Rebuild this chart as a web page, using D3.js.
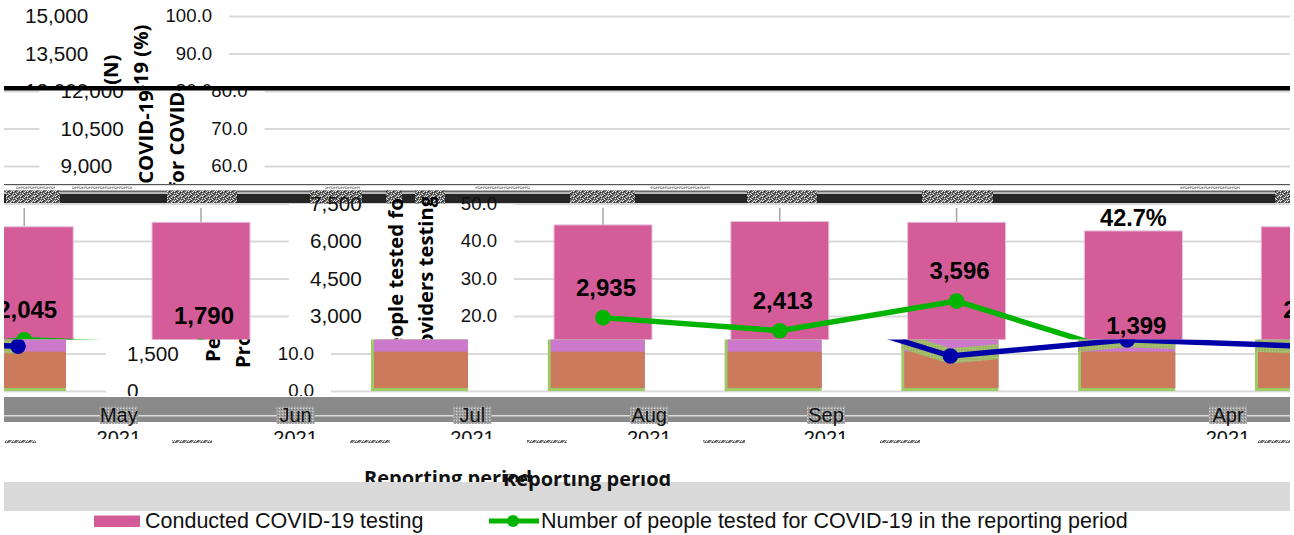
<!DOCTYPE html>
<html><head><meta charset="utf-8">
<script src="https://cdn.jsdelivr.net/npm/d3@7/dist/d3.min.js"></script>
<style>
html,body{margin:0;padding:0;background:#fff}
svg{display:block}
text{font-family:"Liberation Sans",Arial,sans-serif;fill:#111}
</style></head><body>
<svg id="c" width="1294" height="535"></svg>
<script>
// ---- data ----
const months = ["Apr","May","Jun","Jul","Aug","Sep"];
const year = "2021";
const conductedPct = [44.3,45.2,45.0,42.7,43.8,45.0];
const lowerPct = [10.5,10.5,10.5,10.5,10.5,10.5];
const peopleTested = [2935,2413,3596,1399,2045,1790];
const pctLabelShown = ["","","","42.7%","",""];
const countTicks = [0,1500,3000,4500,6000,7500,9000,10500,12000,13500,15000];
const pctTicks = [0,10,20,30,40,50,60,70,80,90,100];
const titleCount = "People tested for COVID-19 (N)";
const titlePct = "Providers testing for COVID-19 (%)";
const xTitle = "Reporting period";
const legendBar = "Conducted COVID-19 testing";
const legendLine = "Number of people tested for COVID-19 in the reporting period";

// ---- layout ----
const L = 4, R = 1290, WRAP = R - L;
const yTop = 16, yBase = 391;
const bands = [
  {id:"b0", y0:0,     y1:87,    dx:0,     marks:false},
  {id:"b1", y0:89,    y1:184,   dx:35.5,  marks:false},
  {id:"bA", y0:197,   y1:339.5, dx:285,   marks:true, swap:false},
  {id:"bB", y0:339.5, y1:396,   dx:102,   marks:true, swap:true}
];
const noiseX = [[6,60],[167,237],[310,362],[386,402],[415,445],[570,635],[747,817],[922,993],[1275,1290]];
const tinyNoiseX = [[5,36],[172,212],[350,390],[527,567],[703,745],[880,920],[1258,1290]];
const thinNoiseX = [[16,55],[72,132],[325,360],[475,530],[650,710],[1180,1240]];
const pink="#d45d99", pinkEdge="#e3c4e2", orange="#cc7a5c", purple="#cc78cc", olive="#9ccb63",
      green="#00b400", navy="#0000a8", grid="#d9d9d9";

const svg = d3.select("#c");
const x = d3.scalePoint().domain(months).range([318,1202]);
const yCount = d3.scaleLinear().domain([0,15000]).range([yBase,yTop]);
const yPct = d3.scaleLinear().domain([0,100]).range([yBase,yTop]);
const barW = 98;
const fmt = d3.format(",");
const line = d3.line().x((d,i)=>x(months[i])).y(d=>yCount(d));

const defs = svg.append("defs");
const pat = defs.append("pattern").attr("id","noise").attr("width",7).attr("height",5).attr("patternUnits","userSpaceOnUse");
pat.append("rect").attr("width",7).attr("height",5).attr("fill","#6f6f6f");
[[0,0,"#f4f4f4"],[2,0,"#2a2a2a"],[5,0,"#e8d8e4"],[4,1,"#c8d8c0"],[1,1,"#262626"],[6,1,"#fff"],[3,2,"#f2e2ee"],[0,2,"#444"],[5,2,"#222"],
 [1,3,"#ddd"],[3,3,"#2a2a2a"],[6,3,"#cfe0d0"],[0,4,"#333"],[2,4,"#fafafa"],[4,4,"#3c3c3c"]]
  .forEach(p=>pat.append("rect").attr("x",p[0]).attr("y",p[1]).attr("width",1).attr("height",1).attr("fill",p[2]));
const pat2 = defs.append("pattern").attr("id","halo").attr("width",3).attr("height",3).attr("patternUnits","userSpaceOnUse");
pat2.append("rect").attr("width",3).attr("height",3).attr("fill","#a0a0a0");
pat2.append("rect").attr("width",1).attr("height",1).attr("fill","#d8d8d8");
pat2.append("rect").attr("x",2).attr("y",1).attr("width",1).attr("height",1).attr("fill","#767676");
const pat3 = defs.append("pattern").attr("id","oliveN").attr("width",3).attr("height",3).attr("patternUnits","userSpaceOnUse");
pat3.append("rect").attr("width",3).attr("height",3).attr("fill","#9fb866");
pat3.append("rect").attr("width",1).attr("height",1).attr("fill","#b8c890");

// strips under the shifted bands, so tick text sits over them
svg.append("rect").attr("x",L).attr("y",184).attr("width",R-L).attr("height",1.2).attr("fill","#555");
svg.append("rect").attr("x",L).attr("y",190.5).attr("width",R-L).attr("height",2).attr("fill","#666");
svg.append("rect").attr("x",L).attr("y",193.7).attr("width",R-L).attr("height",9.5).attr("fill","#262626");
noiseX.forEach(n=>svg.append("rect").attr("x",n[0]).attr("y",190.5).attr("width",n[1]-n[0]).attr("height",13).attr("fill","url(#noise)"));
thinNoiseX.forEach(n=>svg.append("rect").attr("x",n[0]).attr("y",186.5).attr("width",n[1]-n[0]).attr("height",2.5).attr("fill","url(#noise)").attr("opacity",.5));

function scene(g, band){
  g.append("g").attr("transform",`translate(229,0)`)
    .call(d3.axisRight(yPct).tickValues(pctTicks).tickSize(R-229).tickFormat(""))
    .call(a=>a.select(".domain").remove())
    .selectAll("line").attr("stroke",grid).attr("stroke-width",2);
  if(band.marks){
    months.forEach((m,i)=>{
      const cx=x(m), top=yPct(conductedPct[i]), low=yPct(lowerPct[i]);
      if(!band.swap){
        if(!pctLabelShown[i])
          g.append("line").attr("x1",cx).attr("x2",cx).attr("y1",208).attr("y2",top).attr("stroke","#a6a6a6").attr("stroke-width",1.5);
        g.append("rect").attr("x",cx-barW/2).attr("width",barW).attr("y",top).attr("height",yBase-top)
          .attr("fill",pink).attr("stroke",pinkEdge).attr("stroke-width",1);
      } else {
        g.append("rect").attr("x",cx-barW/2).attr("width",barW-1).attr("y",top).attr("height",yBase-top)
          .attr("fill",olive);
        g.append("rect").attr("x",cx-barW/2+3).attr("width",barW-4).attr("y",top).attr("height",yBase-top-3)
          .attr("fill",purple);
        g.append("rect").attr("x",cx-barW/2+3).attr("width",barW-4).attr("y",low).attr("height",yBase-low-3)
          .attr("fill",orange);
      }
    });
    if(band.swap){
      const cid="barsClip"+band.id;
      const cp=defs.append("clipPath").attr("id",cid);
      months.forEach(m=>cp.append("rect").attr("x",x(m)-barW/2).attr("width",barW-1).attr("y",340).attr("height",56));
      g.append("g").attr("clip-path",`url(#${cid})`).append("path").attr("d",line(peopleTested))
        .attr("fill","none").attr("stroke","url(#oliveN)").attr("stroke-width",15);
    }
    const col = band.swap?navy:green;
    g.append("path").attr("d",line(peopleTested)).attr("fill","none").attr("stroke",col).attr("stroke-width",5.5);
    g.selectAll(null).data(peopleTested).enter().append("circle")
      .attr("cx",(d,i)=>x(months[i])).attr("cy",d=>yCount(d)).attr("r",7.8).attr("fill",col);
    g.selectAll(null).data(peopleTested).enter().append("text")
      .attr("x",(d,i)=>x(months[i])+3).attr("y",d=>yCount(d)-22)
      .attr("text-anchor","middle").attr("font-size",24).attr("font-weight","bold").style("fill","#000")
      .text(d=>fmt(d));
    pctLabelShown.forEach((t,i)=>{ if(t)
      g.append("text").attr("x",x(months[i])).attr("y",yPct(conductedPct[i])-5)
       .attr("text-anchor","middle").attr("font-size",23.5).attr("font-weight","bold").style("fill","#000").text(t);
    });
  }
  const ac=g.append("g").attr("transform","translate(25,0)")
    .call(d3.axisRight(yCount).tickValues(countTicks).tickSize(0).tickPadding(0).tickFormat(fmt));
  ac.select(".domain").remove();
  ac.selectAll("text").attr("font-size",20.7).attr("font-family",null).attr("text-anchor","start");
  const ap=g.append("g").attr("transform","translate(212,0)")
    .call(d3.axisLeft(yPct).tickValues(pctTicks).tickSize(0).tickPadding(0).tickFormat(d3.format(".1f")));
  ap.select(".domain").remove();
  ap.selectAll("text").attr("font-size",18.6).attr("font-family",null).attr("text-anchor","end");
  [[titleCount,117.5,362],[titlePct,148,368]].forEach(t=>{
    g.append("text").attr("transform",`translate(${t[1]},${t[2]}) rotate(-90)`)
     .attr("font-size",20.3).attr("font-weight","bold").style("font-family","'Open Sans'").style("fill","#000").text(t[0]);
  });
}

bands.forEach(b=>{
  const cid="clip"+b.id;
  defs.append("clipPath").attr("id",cid).append("rect").attr("x",L).attr("y",b.y0).attr("width",R-L).attr("height",b.y1-b.y0);
  const outer=svg.append("g").attr("clip-path",`url(#${cid})`);
  [b.dx,b.dx-WRAP].forEach(dx=>{
    const g=outer.append("g").attr("transform",`translate(${dx},0)`);
    scene(g,b);
  });
  outer.selectAll("text").each(function(){
    const r=this.getBoundingClientRect();
    if(r.bottom<b.y0||r.top>b.y1||r.right<L||r.left>R) this.remove();
  });
});

// horizontal black bar
svg.append("rect").attr("x",L).attr("y",86).attr("width",R-L).attr("height",4.5).attr("fill","#000");

// x axis strip + labels
svg.append("rect").attr("x",L).attr("y",397).attr("width",R-L).attr("height",25).attr("fill","#8a8a8a");
svg.append("rect").attr("x",L).attr("y",415.2).attr("width",R-L).attr("height",1.2).attr("fill","#f0f0f0");
defs.append("clipPath").attr("id","clipX").append("rect").attr("x",L).attr("y",396).attr("width",R-L).attr("height",43);
const xg=svg.append("g").attr("clip-path","url(#clipX)");
const xShift=-376;
months.forEach(m=>{
  let cx=x(m)+xShift; if(cx<L) cx+=WRAP;
  xg.append("rect").attr("x",cx-19).attr("y",406).attr("width",38).attr("height",18).attr("fill","url(#halo)");
  xg.append("text").attr("x",cx).attr("y",421.5).attr("text-anchor","middle").attr("font-size",20).text(m);
  xg.append("text").attr("x",cx).attr("y",445).attr("text-anchor","middle").attr("font-size",20).text(year);
});
tinyNoiseX.forEach(n=>svg.append("rect").attr("x",n[0]).attr("y",440).attr("width",n[1]-n[0]).attr("height",3).attr("fill","url(#noise)").attr("opacity",.8));

// grey strip + x title pieces
svg.append("rect").attr("x",L).attr("y",482).attr("width",R-L).attr("height",29).attr("fill",grid);
defs.append("clipPath").attr("id","clipT1").append("rect").attr("x",0).attr("y",460).attr("width",1294).attr("height",22);
defs.append("clipPath").attr("id","clipT2").append("rect").attr("x",0).attr("y",474).attr("width",1294).attr("height",30);
[[364,"clipT1",484.5],[503,"clipT2",485.5]].forEach(t=>{
  svg.append("g").attr("clip-path",`url(#${t[1]})`).append("text")
    .attr("x",t[0]).attr("y",t[2]).attr("font-size",20).attr("font-weight","bold")
    .style("font-family","'Open Sans'").style("fill","#111").text(xTitle);
});

// legend
svg.append("rect").attr("x",94).attr("y",515.5).attr("width",46).attr("height",11.5).attr("fill",pink);
svg.append("text").attr("x",145).attr("y",528).attr("font-size",21.5).text(legendBar);
svg.append("line").attr("x1",489).attr("x2",539).attr("y1",521).attr("y2",521).attr("stroke",green).attr("stroke-width",5);
svg.append("circle").attr("cx",513).attr("cy",521).attr("r",6).attr("fill",green);
svg.append("text").attr("x",541).attr("y",528).attr("font-size",21.5).text(legendLine);
</script>
</body></html>
